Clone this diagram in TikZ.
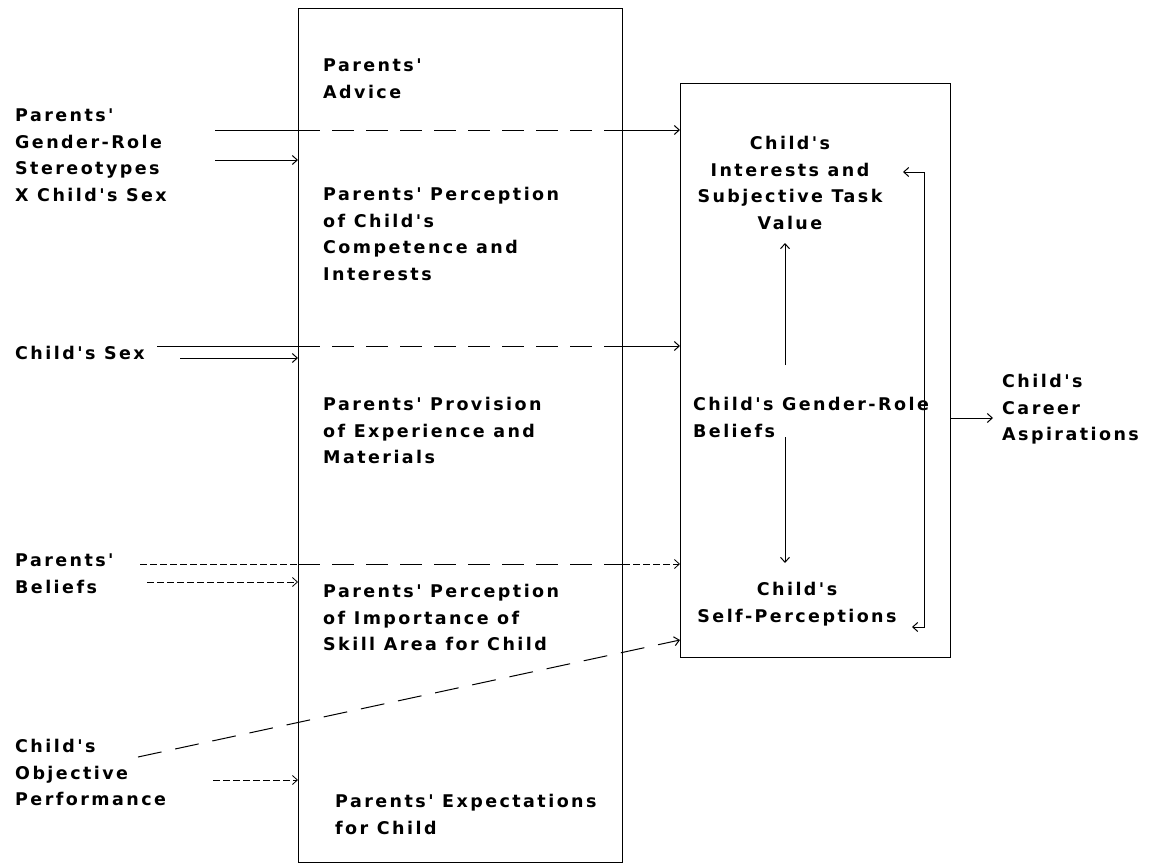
\documentclass[tikz,border=0pt]{standalone}
\usepackage{fontspec}
\newfontfamily\pixfont{DejaVu Sans Bold}[LetterSpace=14]
\usetikzlibrary{arrows.meta}

\begin{document}
\begin{tikzpicture}[x=1pt,y=-1pt,
  lbl/.style={font=\pixfont\fontsize{17.5}{26.5}\selectfont, inner sep=0pt, anchor=north west, align=left},
  lblc/.style={lbl, anchor=north, align=center},
  frame/.style={draw, line width=1.2pt, inner sep=0pt, anchor=north west},
  link/.style={line width=1pt},
  dashlink/.style={link, dash pattern=on 22pt off 12pt},
  finelink/.style={line width=0.8pt, dash pattern=on 7pt off 3pt},
  tip/.style={-{Straight Barb[length=5pt,width=9pt]}},
  twotip/.style={{Straight Barb[length=5pt,width=9pt]}-{Straight Barb[length=5pt,width=9pt]}}
]
\useasboundingbox (0,0) rectangle (1156,865);

% the two frames
\node[frame, minimum width=324pt, minimum height=854pt] (pbox) at (298,8) {};
\node[frame, minimum width=270pt, minimum height=574pt] (cbox) at (680,83) {};

% labels outside the frames
\node[lbl] (pgrs) at (15,109) {Parents'\\Gender-Role\\Stereotypes\\X Child's Sex};
\node[lbl] (csex) at (15,346) {Child's Sex};
\node[lbl] (pbel) at (15,554) {Parents'\\Beliefs};
\node[lbl] (cobj) at (15,739) {Child's\\Objective\\Performance};

% parent variables
\node[lbl] (padv) at (323,59) {Parents'\\Advice};
\node[lbl] (ppcc) at (323,187) {Parents' Perception\\of Child's\\Competence and\\Interests};
\node[lbl] (ppro) at (323,397) {Parents' Provision\\of Experience and\\Materials};
\node[lbl] (ppim) at (323,584) {Parents' Perception\\of Importance of\\Skill Area for Child};
\node[lbl] (pexp) at (335,794) {Parents' Expectations\\for Child};

% child variables
\node[lblc] (cint) at (790,136) {Child's\\Interests and\\Subjective Task\\Value};
\node[lbl] (cgrb) at (693,397) {Child's Gender-Role\\Beliefs};
\node[lblc] (cself) at (797,582) {Child's\\Self-Perceptions};
\node[lbl] (ccar) at (1002,374) {Child's\\Career\\Aspirations};

% connector end points
\coordinate (g1) at (215,130);
\coordinate (g2) at (215,160);
\coordinate (s1) at (157,346);
\coordinate (s2) at (180,358);
\coordinate (b1) at (140,564);
\coordinate (b2) at (147,582);
\coordinate (o1) at (138,757);
\coordinate (o2) at (213,780);
\coordinate (oe) at (680,640);
\coordinate (upA) at (785,365);
\coordinate (upB) at (785,243);
\coordinate (dnA) at (785,437);
\coordinate (dnB) at (785,563);
\coordinate (fbA) at (903,172);
\coordinate (fbC) at (924,627);
\coordinate (fbB) at (912,627);
\coordinate (out) at (993,418);

% gender-role stereotypes x child's sex
\draw[link] (g1) -- (g1 -| pbox.west);
\draw[dashlink] (g1 -| pbox.west) -- (g1 -| pbox.east);
\draw[link, tip] (g1 -| pbox.east) -- (g1 -| cbox.west);
\draw[link, tip] (g2) -- (g2 -| pbox.west);

% child's sex
\draw[link] (s1) -- (s1 -| pbox.west);
\draw[dashlink] (s1 -| pbox.west) -- (s1 -| pbox.east);
\draw[link, tip] (s1 -| pbox.east) -- (s1 -| cbox.west);
\draw[link, tip] (s2) -- (s2 -| pbox.west);

% parents' beliefs
\draw[finelink] (b1) -- (b1 -| pbox.west);
\draw[dashlink] (b1 -| pbox.west) -- (b1 -| pbox.east);
\draw[finelink, tip] (b1 -| pbox.east) -- (b1 -| cbox.west);
\draw[finelink, tip] (b2) -- (b2 -| pbox.west);

% child's objective performance
\draw[link, dash pattern=on 24pt off 14pt, tip] (o1) -- (oe);
\draw[finelink, tip] (o2) -- (o2 -| pbox.west);

% links inside the child frame
\draw[link, tip] (upA) -- (upB);
\draw[link, tip] (dnA) -- (dnB);
\draw[link, twotip] (fbA) -| (fbC) -- (fbB);
\draw[link, tip] (out -| cbox.east) -- (out);
\end{tikzpicture}
\end{document}
